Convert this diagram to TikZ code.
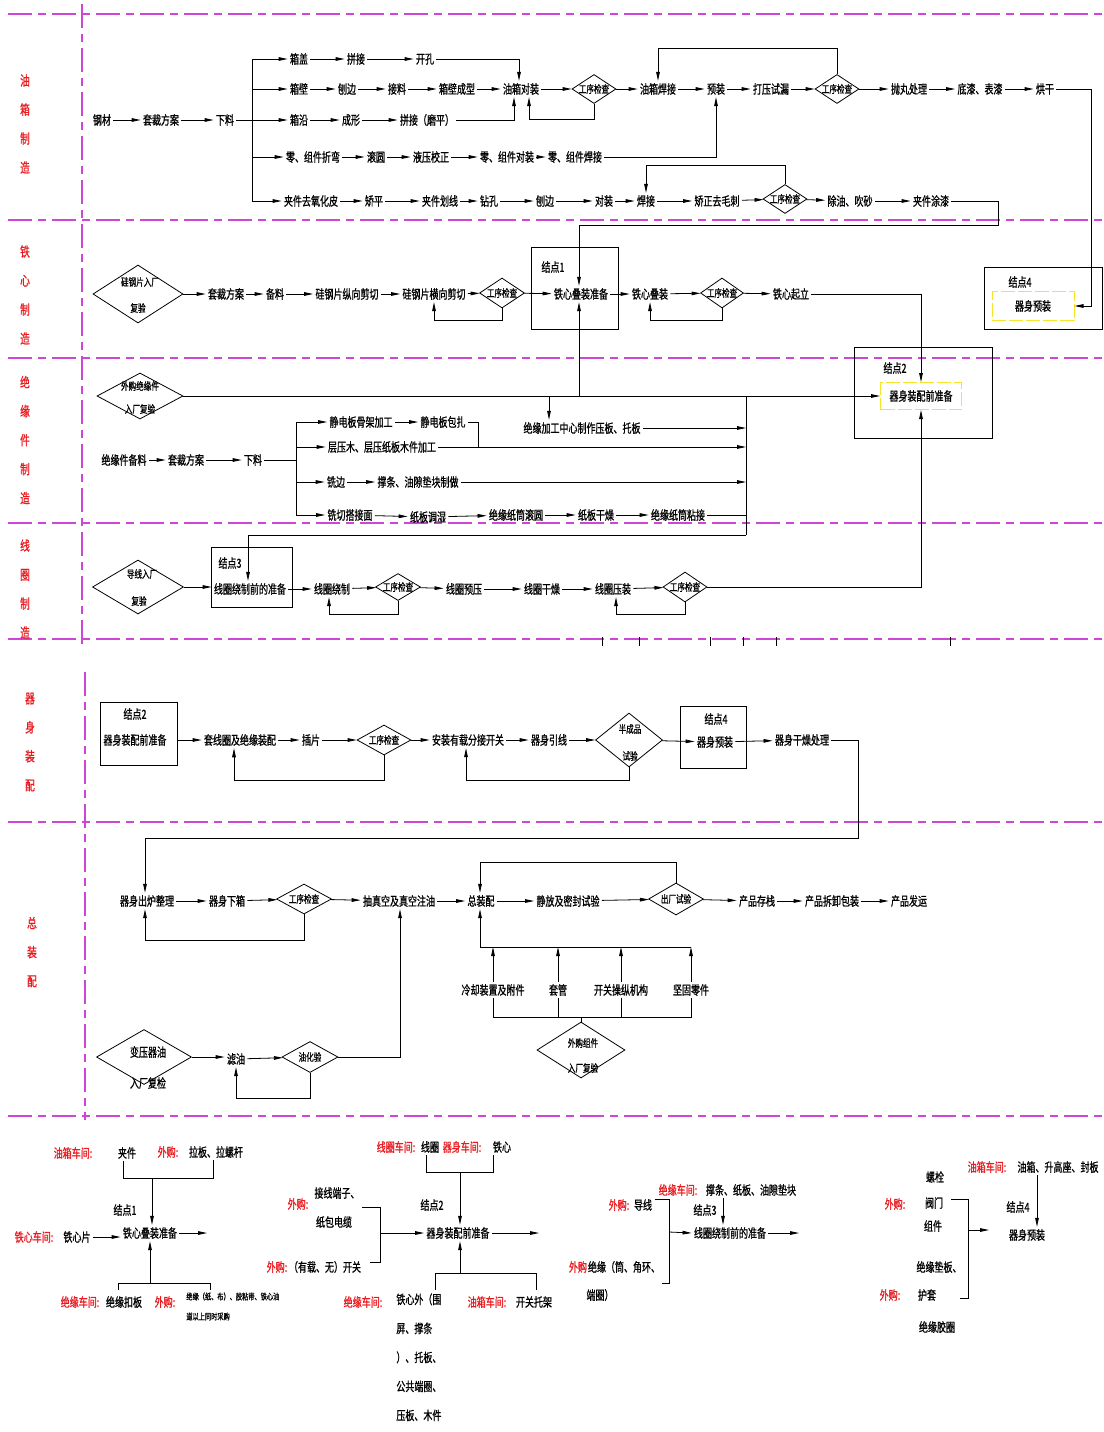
\documentclass[tikz,border=0pt]{standalone}
\usepackage{fontspec}
\newfontfamily\cjk[FakeStretch=0.72,FakeBold=0.9]{Noto Sans CJK SC}
\usetikzlibrary{shapes.geometric,arrows.meta,calc}
\definecolor{magl}{RGB}{205,70,215}
\definecolor{lblred}{RGB}{235,25,30}
\definecolor{ylw}{RGB}{245,228,40}
\newcommand\ztxt[1]{\smash{\makebox[0pt]{\raisebox{-0.38em}{#1}}}}
\tikzset{
 ctext/.style={font=\cjk\fontsize{12.5}{14}\selectfont, inner sep=2pt},
 csmall/.style={font=\cjk\fontsize{10.5}{12}\selectfont, inner sep=1pt},
 ctiny/.style={font=\cjk\fontsize{8.6}{20}\selectfont, inner sep=0pt},
 cred/.style={font=\cjk\fontsize{12.5}{14}\selectfont, text=lblred, inner sep=1pt},
 clane/.style={font=\cjk\fontsize{13.5}{29}\selectfont, text=lblred, align=center, inner sep=0pt},
 cdia/.style={diamond, draw, inner sep=0pt, minimum width=44, minimum height=29, font=\cjk\fontsize{10.5}{12}\selectfont},
 cbox/.style={draw, rectangle, inner sep=0pt},
 cybox/.style={draw=ylw, dash pattern=on 14pt off 3pt, line width=1pt, inner sep=0pt, font=\cjk\fontsize{12.5}{14}\selectfont},
 carr/.style={-{Triangle[length=9pt,width=3.6pt]}},
 cmag/.style={draw=magl, line width=1.1pt, dash pattern=on 24pt off 6pt on 8pt off 6pt},
}
\begin{document}
\begin{tikzpicture}[x=1pt,y=-1pt,line width=0.8pt]
\fill[white] (0,0) rectangle (1103,1432);
\useasboundingbox (0,0) rectangle (1103,1432);

% ---------- lane separators ----------
\foreach \yy in {14,220,358,523,639,822,1116} \draw[cmag] (8,\yy) -- (1103,\yy);
\draw[cmag] (82,4) -- (82,646);
\draw[cmag] (85,672) -- (85,1120);
\foreach \xx in {602,639,710,743,776,950} \draw[line width=0.6pt] (\xx,637) -- (\xx,646);

% ---------- lane labels ----------
\node[clane] (L1) at (25,124) {油\\箱\\制\\造};
\node[clane] (L2) at (25,295) {铁\\心\\制\\造};
\node[clane] (L3) at (25,440) {绝\\缘\\件\\制\\造};
\node[clane] (L4) at (25,589) {线\\圈\\制\\造};
\node[clane] (L5) at (30,742) {器\\身\\装\\配};
\node[clane] (L6) at (32,952) {总\\装\\配};

% ================= Lane 1 =================
\node[ctext] (gc) at (102,120) {钢材};
\node[ctext] (tcfa) at (161,120) {套裁方案};
\node[ctext] (xl) at (225,120) {下料};
\coordinate (s1) at (252,120);
\coordinate (s1t) at (252,59);
\coordinate (s1b) at (252,201);
\node[ctext] (xg) at (299,59) {箱盖};
\node[ctext] (pj1) at (356,59) {拼接};
\node[ctext] (kk) at (425,59) {开孔};
\node[ctext] (xbi) at (299,89) {箱壁};
\node[ctext] (bb1) at (347,89) {刨边};
\node[ctext] (jl) at (397,89) {接料};
\node[ctext] (xbcx) at (457,89) {箱壁成型};
\node[ctext] (yxdz) at (521,89) {油箱对装};
\node[cdia] (ck1) at (594,89) {\ztxt{工序检查}};
\node[ctext] (yxhj) at (658,89) {油箱焊接};
\node[ctext] (yz) at (716,89) {预装};
\node[ctext] (dysl) at (771,89) {打压试漏};
\node[cdia] (ck2) at (837,89) {\ztxt{工序检查}};
\node[ctext] (pwcl) at (909,89) {抛丸处理};
\node[ctext] (dqbq) at (980,89) {底漆、表漆};
\node[ctext] (hg) at (1045,89) {烘干};
\node[ctext] (xy) at (299,120) {箱沿};
\node[ctext] (cx) at (351,120) {成形};
\node[ctext] (pjmp) at (427,120) {拼接（磨平）};
\node[ctext] (lzw) at (313,157) {零、组件折弯};
\node[ctext] (gy) at (376,157) {滚圆};
\node[ctext] (yyjz) at (431,157) {液压校正};
\node[ctext] (lzd) at (507,157) {零、组件对装};
\node[ctext] (lzh) at (575,157) {零、组件焊接};
\node[ctext] (jjq) at (311,201) {夹件去氧化皮};
\node[ctext] (jp) at (374,201) {矫平};
\node[ctext] (jjhx) at (440,201) {夹件划线};
\node[ctext] (zk) at (489,201) {钻孔};
\node[ctext] (bb2) at (545,201) {刨边};
\node[ctext] (dz) at (604,201) {对装};
\node[ctext] (hj) at (646,201) {焊接};
\node[ctext] (jzq) at (717,201) {矫正去毛刺};
\node[cdia] (ck3) at (785,199) {\ztxt{工序检查}};
\node[ctext] (cycs) at (850,201) {除油、吹砂};
\node[ctext] (jjtq) at (931,201) {夹件涂漆};

\draw[carr] (gc) -- (tcfa);
\draw[carr] (tcfa) -- (xl);
\draw (xl) -- (s1);
\draw (s1t) -- (s1b);
\foreach \n in {xg,xbi,xy,lzw,jjq} \draw[carr] (s1 |- \n) -- (\n);
\draw[carr] (xg) -- (pj1);
\draw[carr] (pj1) -- (kk);
\draw[carr] (kk) -| ([xshift=-2]yxdz.north);
\foreach \a/\b in {xbi/bb1,bb1/jl,jl/xbcx,xbcx/yxdz,yxdz/ck1,ck1/yxhj,yxhj/yz,yz/dysl,dysl/ck2,ck2/pwcl,pwcl/dqbq,dqbq/hg} \draw[carr] (\a) -- (\b);
\draw[carr] (xy) -- (cx);
\draw[carr] (cx) -- (pjmp);
\draw[carr] (pjmp) -| ([xshift=-7]yxdz.south);
\draw[carr] (ck1.south) -- ++(0,15) -| ([xshift=8]yxdz.south);
\draw[carr] (ck2.north) -- ++(0,-26) -| (yxhj.north);
\foreach \a/\b in {lzw/gy,gy/yyjz,yyjz/lzd,lzd/lzh} \draw[carr] (\a) -- (\b);
\draw[carr] (lzh) -| (yz.south);
\foreach \a/\b in {jjq/jp,jp/jjhx,jjhx/zk,zk/bb2,bb2/dz,dz/hj,hj/jzq,jzq/ck3,ck3/cycs,cycs/jjtq} \draw[carr] (\a) -- (\b);
\draw[carr] (ck3.north) -- ++(0,-19) -| (hj.north);

% ================= Lane 2 =================
\node[cdia, minimum width=90, minimum height=58] (gpd) at (138,294) {};
\node[csmall] (gpdt) at (140,282) {硅钢片入厂};
\node[csmall] (gpdb) at (138,308) {复验};
\node[ctext] (tcfa2) at (226,294) {套裁方案};
\node[ctext] (bl) at (275,294) {备料};
\node[ctext] (gzx) at (347,294) {硅钢片纵向剪切};
\node[ctext] (ghx) at (434,294) {硅钢片横向剪切};
\node[cdia, minimum width=45, minimum height=30] (ck4) at (502,293) {\ztxt{工序检查}};
\node[cbox, minimum width=87, minimum height=82] (j1box) at (574.5,288) {};
\node[ctext] (j1l) at (553,267) {结点1};
\node[ctext] (txdz) at (581,294) {铁心叠装准备};
\node[ctext] (txd) at (650,294) {铁心叠装};
\node[cdia, minimum width=43, minimum height=30] (ck5) at (722,293) {\ztxt{工序检查}};
\node[ctext] (txql) at (791,294) {铁心起立};

\node[cbox, minimum width=118, minimum height=62] (j4box) at (1043,298) {};
\node[ctext] (j4l) at (1020,282) {结点4};
\node[cybox, minimum width=82, minimum height=29] (yel4) at (1033,306) {器身预装};

\node[cbox, minimum width=138, minimum height=91] (j2box) at (923,392.5) {};
\node[ctext] (j2l) at (895,368) {结点2};
\node[cybox, minimum width=81, minimum height=27] (yel2) at (921,396) {器身装配前准备};

\foreach \a/\b in {gpd/tcfa2,tcfa2/bl,bl/gzx,gzx/ghx,ghx/ck4,ck4/txdz,txdz/txd,txd/ck5,ck5/txql} \draw[carr] (\a) -- (\b);
\draw[carr] (ck4.south) -- ++(0,12) -| (ghx.south);
\draw[carr] (ck5.south) -- ++(0,12) -| (txd.south);
\draw[carr] (txql) -| (yel2.north);
\coordinate (c1) at (998,225);
\draw[carr] (jjtq) -| (c1) -| ([xshift=-2]txdz.north);
\coordinate (c2) at (1091,306);
\draw[carr] (hg) -| (c2) -- (yel4.east);

% ================= Lane 3 =================
\node[cdia, minimum width=86, minimum height=46] (wgj) at (140,396) {};
\node[csmall] (wgjt) at (140,386) {外购绝缘件};
\node[csmall] (wgjb) at (140,409) {入厂复验};
\draw[carr] (wgj.east) -- (yel2.west);
\node[ctext] (jgzx) at (582,428) {绝缘加工中心制作压板、托板};
\draw[carr] ([xshift=-2]txdz.south |- wgj.east) -- ([xshift=-2]txdz.south);
\draw[carr] ([xshift=-33]jgzx.north |- wgj.east) -- ([xshift=-33]jgzx.north);

\node[ctext] (jyjbl) at (124,460) {绝缘件备料};
\node[ctext] (tcfa3) at (186,460) {套裁方案};
\node[ctext] (xl3) at (253,460) {下料};
\coordinate (s3) at (296,460);
\coordinate (s3t) at (296,422);
\coordinate (s3b) at (296,515);
\node[ctext] (jdbgj) at (361,422) {静电板骨架加工};
\node[ctext] (jdbbz) at (443,422) {静电板包扎};
\node[ctext] (cym) at (382,447) {层压木、层压纸板木件加工};
\node[ctext] (xb3) at (336,482) {铣边};
\node[ctext] (ctyx) at (418,482) {撑条、油隙垫块制做};
\node[ctext] (xqdj) at (350,515) {铣切搭接面};
\node[ctext] (zbts) at (428,517) {纸板调湿};
\node[ctext] (jyztgy) at (516,515) {绝缘纸筒滚圆};
\node[ctext] (zbgz) at (596,515) {纸板干燥};
\node[ctext] (jyztnj) at (678,515) {绝缘纸筒粘接};
\coordinate (busT) at (746,396);
\coordinate (busB) at (746,535);

\draw[carr] (jyjbl) -- (tcfa3);
\draw[carr] (tcfa3) -- (xl3);
\draw (xl3) -- (s3);
\draw (s3t) -- (s3b);
\foreach \n in {jdbgj,cym,xb3,xqdj} \draw[carr] (s3 |- \n) -- (\n);
\draw[carr] (jdbgj) -- (jdbbz);
\draw[carr] (xb3) -- (ctyx);
\foreach \a/\b in {xqdj/zbts,zbts/jyztgy,jyztgy/zbgz,zbgz/jyztnj} \draw[carr] (\a) -- (\b);
\coordinate (kB) at ([xshift=10]jdbbz.east |- cym.east);
\draw (jdbbz.east) -| (kB);
\draw[carr] (cym.east) -- (cym.east -| busT);
\draw[carr] (jgzx.east) -- (jgzx.east -| busT);
\draw[carr] (ctyx.east) -- (ctyx.east -| busT);
\draw (jyztnj.east) -- (jyztnj.east -| busT);
\draw (busT) -- (busB);

% ================= Lane 4 =================
\node[cdia, minimum width=91, minimum height=54] (dxd) at (138,587) {};
\node[csmall] (dxdt) at (142,574) {导线入厂};
\node[csmall] (dxdb) at (139,601) {复验};
\node[cbox, minimum width=81, minimum height=60] (j3box) at (251.5,577) {};
\node[ctext] (j3l) at (230,563) {结点3};
\node[ctext] (xqrz) at (250,589) {线圈绕制前的准备};
\node[ctext] (xqrzhi) at (332,589) {线圈绕制};
\node[cdia, minimum width=45, minimum height=27] (ck6) at (398,587) {\ztxt{工序检查}};
\node[ctext] (xqyy) at (464,589) {线圈预压};
\node[ctext] (xqgz) at (542,589) {线圈干燥};
\node[ctext] (xqyz) at (613,589) {线圈压装};
\node[cdia, minimum width=44, minimum height=30] (ck7) at (685,587) {\ztxt{工序检查}};
\draw[carr] (busB) -| ([xshift=-2]xqrz.north);
\draw[carr] (dxd.east) -- (dxd.east -| xqrz.west);
\foreach \a/\b in {xqrz/xqrzhi,xqrzhi/ck6,ck6/xqyy,xqyy/xqgz,xqgz/xqyz,xqyz/ck7} \draw[carr] (\a) -- (\b);
\draw[carr] (ck6.south) -- ++(0,13) -| ([xshift=-3]xqrzhi.south);
\draw[carr] (ck7.south) -- ++(0,12) -| ([xshift=3]xqyz.south);
\draw[carr] (ck7) -| (yel2.south);

% ================= Lane 5 =================
\node[cbox, minimum width=77, minimum height=63] (j2b) at (138.5,733.5) {};
\node[ctext] (j2bl) at (135,714) {结点2};
\node[ctext] (qszp) at (135,740) {器身装配前准备};
\node[ctext] (txq) at (240,740) {套线圈及绝缘装配};
\node[ctext] (cp) at (311,740) {插片};
\node[cdia, minimum width=54, minimum height=30] (ck8) at (384,740) {\ztxt{工序检查}};
\node[ctext] (azyz) at (468,740) {安装有载分接开关};
\node[ctext] (qsyx) at (549,740) {器身引线};
\node[cdia, minimum width=67, minimum height=54] (bcp) at (629,740) {};
\node[csmall] (bcpt) at (630,729) {半成品};
\node[csmall] (bcpb) at (630,756) {试验};
\node[cbox, minimum width=66, minimum height=62] (j4b) at (713.5,737.5) {};
\node[ctext] (j4bl) at (716,719) {结点4};
\node[ctext] (qsyz) at (715,742) {器身预装};
\node[ctext] (qsgz) at (802,740) {器身干燥处理};
\draw[carr] (j2b.east |- qszp) -- (txq);
\foreach \a/\b in {txq/cp,cp/ck8,ck8/azyz,azyz/qsyx,qsyx/bcp,bcp/qsyz,qsyz/qsgz} \draw[carr] (\a) -- (\b);
\draw[carr] (ck8.south) -- ++(0,25) -| ([xshift=-6]txq.south);
\draw[carr] (bcp.south) -- ++(0,13) -| ([xshift=-2]azyz.south);

% ================= Lane 6 =================
\node[ctext] (cczl) at (147,901) {器身出炉整理};
\node[ctext] (sxx) at (227,901) {器身下箱};
\node[cdia, minimum width=55, minimum height=30] (ck9) at (304,899) {\ztxt{工序检查}};
\node[ctext] (czk) at (399,901) {抽真空及真空注油};
\node[ctext] (zzp) at (481,901) {总装配};
\node[ctext] (jfmf) at (568,901) {静放及密封试验};
\node[cdia, minimum width=55, minimum height=32] (ccsy) at (676,899) {\ztxt{出厂试验}};
\node[ctext] (cpcz) at (757,901) {产品存栈};
\node[ctext] (cpcx) at (832,901) {产品拆卸包装};
\node[ctext] (cpfy) at (909,901) {产品发运};
\coordinate (tr5) at (858,838);
\draw[carr] (qsgz) -| (tr5) -| ([xshift=-2]cczl.north);
\foreach \a/\b in {cczl/sxx,sxx/ck9,ck9/czk,czk/zzp,zzp/jfmf,jfmf/ccsy,ccsy/cpcz,cpcz/cpcx,cpcx/cpfy} \draw[carr] (\a) -- (\b);
\draw[carr] (ck9.south) -- ++(0,26) -| ([xshift=-2]cczl.south);
\draw[carr] (ccsy.north) -- ++(0,-20) -| ([xshift=-1]zzp.north);

\node[ctext] (lqzz) at (493,990) {冷却装置及附件};
\node[ctext] (tg) at (558,990) {套管};
\node[ctext] (kgcz) at (621,990) {开关操纵机构};
\node[ctext] (jglj) at (691,990) {坚固零件};
\coordinate (at1) at (480,947);
\coordinate (at2) at (691,947);
\draw (at1) -- (at2);
\draw[carr] (at1) -- (at1 |- zzp.south);
\foreach \n in {lqzz,tg,kgcz,jglj} \draw[carr] (\n.north) -- (\n.north |- at1);
\node[cdia, minimum width=88, minimum height=56] (wgzj) at (581,1050) {};
\node[csmall] (wgzjt) at (583,1043) {外购组件};
\node[csmall] (wgzjb) at (583,1068) {入厂复验};
\coordinate (ab1) at (493,1017);
\draw (lqzz.south) -- (lqzz.south |- ab1) -- (jglj.south |- ab1) -- (jglj.south);
\draw (tg.south) -- (tg.south |- ab1);
\draw (kgcz.south) -- (kgcz.south |- ab1);
\draw (wgzj.north) -- (wgzj.north |- ab1);

\node[cdia, minimum width=95, minimum height=55] (byq) at (144,1057) {};
\node[ctext] (byqt) at (148,1052) {变压器油};
\node[ctext] (byqb) at (148,1083) {入厂复检};
\node[ctext] (ly) at (236,1059) {滤油};
\node[cdia, minimum width=56, minimum height=31] (yhy) at (310,1057) {\ztxt{油化验}};
\draw[carr] (byq.east) -- (byq.east -| ly.west);
\draw[carr] (ly) -- (yhy);
\draw[carr] (yhy.south) -- ++(0,25) -| (ly.south);
\draw[carr] (yhy) -| ([xshift=1]czk.south);

% ================= Bottom section =================
% group 1
\node[cred] (r1) at (73,1153) {油箱车间:};
\node[ctext] (b1) at (127,1153) {夹件};
\node[cred] (r2) at (168,1152) {外购:};
\node[ctext] (b2) at (216,1152) {拉板、拉螺杆};
\coordinate (g1r) at (213,1178);
\coordinate (g1c) at (152,1178);
\draw ([xshift=-4]b1.south) |- (g1r) -- (g1r |- b2.south);
\node[ctext] (j1l2) at (125,1210) {结点1};
\node[ctext] (tx1) at (150,1233) {铁心叠装准备};
\draw[carr] (g1c) -- (g1c |- tx1.north);
\node[cred] (r3) at (34,1237) {铁心车间:};
\node[ctext] (b3) at (77,1237) {铁心片};
\draw[carr] (b3) -- (b3 -| tx1.west);
\coordinate (o1) at (207,1233);
\draw[carr] (tx1) -- (o1);
\coordinate (g1d) at (118,1283);
\coordinate (g1e) at (210,1283);
\coordinate (g1f) at (150,1283);
\draw (g1d) ++(0,7) -- (g1d) -- (g1e) -- ++(0,7);
\draw[carr] (g1f) -- (tx1.south);
\node[cred] (r4) at (80,1302) {绝缘车间:};
\node[ctext] (b4) at (124,1302) {绝缘扣板};
\node[cred] (r5) at (165,1302) {外购:};
\node[ctiny, anchor=north west, align=left] (b5) at (186,1292) {绝缘（纸、布）、胶粘带、铁心油\\道以上同时采购};

% group 2
\node[cred] (r6) at (396,1147) {线圈车间:};
\node[ctext] (b6) at (430,1147) {线圈};
\node[cred] (r7) at (462,1147) {器身车间:};
\node[ctext] (b7) at (502,1147) {铁心};
\coordinate (g2r) at (493,1172);
\coordinate (g2c) at (460,1172);
\draw ([xshift=-4]b6.south) |- (g2r) -- (g2r |- b7.south);
\node[ctext] (j2l2) at (432,1205) {结点2};
\node[ctext] (qszp2) at (458,1233) {器身装配前准备};
\draw[carr] (g2c) -- (g2c |- qszp2.north);
\coordinate (o2) at (539,1233);
\draw[carr] (qszp2) -- (o2);
\node[cred] (r8) at (298,1204) {外购:};
\node[ctext] (b8) at (337,1193) {接线端子、};
\node[ctext] (b9) at (334,1222) {纸包电缆};
\coordinate (g2a) at (380,1207);
\coordinate (g2b) at (380,1262);
\coordinate (g2m) at (380,1233);
\draw ($(g2a)+(-18,0)$) -- (g2a) -- (g2b) -- ++(-10,0);
\draw[carr] (g2m) -- (qszp2.west);
\node[cred] (r9) at (277,1267) {外购:};
\node[ctext] (b10) at (325,1267) {（有载、无）开关};
\coordinate (g2d) at (435,1273);
\coordinate (g2e) at (536,1273);
\coordinate (g2f) at (460,1273);
\draw (g2d) ++(0,17) -- (g2d) -- (g2e) -- ++(0,17);
\draw[carr] (g2f) -- (g2f |- qszp2.south);
\node[cred] (r10) at (363,1302) {绝缘车间:};
\node[ctext, anchor=north west, align=left, font=\cjk\fontsize{12.5}{29}\selectfont, inner sep=0pt] (b11) at (396,1293) {铁心外（围\\屏、撑条\\）、托板、\\公共端圈、\\压板、木件};
\node[cred] (r11) at (487,1302) {油箱车间:};
\node[ctext] (b12) at (534,1302) {开关托架};

% group 3
\node[cred] (r12) at (678,1190) {绝缘车间:};
\node[ctext] (b13) at (751,1190) {撑条、纸板、油隙垫块};
\node[cred] (r13) at (619,1205) {外购:};
\node[ctext] (b14) at (643,1205) {导线};
\coordinate (g3a) at (669,1199);
\coordinate (g3b) at (669,1283);
\coordinate (g3m) at (669,1232);
\draw ($(g3a)+(-14,0)$) -- (g3a) -- (g3b) -- ++(-7,0);
\node[ctext] (j3l2) at (705,1210) {结点3};
\node[ctext] (xqrz2) at (730,1233) {线圈绕制前的准备};
\draw[carr] (g3m) -- (xqrz2.west);
\draw[carr] ([xshift=-28]b13.south) -- ([xshift=-7]xqrz2.north);
\coordinate (o3) at (799,1233);
\draw[carr] (xqrz2) -- (o3);
\node[cred] (r14) at (578,1267) {外购};
\node[ctext] (b15) at (624,1267) {绝缘（筒、角环、};
\node[ctext] (b16) at (600,1295) {端圈）};

% group 4
\node[ctext] (b17) at (935,1177) {螺栓};
\node[cred] (r15) at (895,1204) {外购:};
\node[ctext] (b18) at (934,1203) {阀门};
\node[ctext] (b19) at (933,1226) {组件};
\coordinate (g4a) at (968,1199);
\coordinate (g4b) at (968,1298);
\coordinate (g4m) at (968,1230);
\draw ($(g4a)+(-17,0)$) -- (g4a) -- (g4b) -- ++(-8,0);
\coordinate (o4) at (989,1230);
\draw[carr] (g4m) -- (o4);
\node[cred] (r16) at (987,1167) {油箱车间:};
\node[ctext] (b20) at (1058,1167) {油箱、升高座、封板};
\node[ctext] (j4l2) at (1018,1207) {结点4};
\node[ctext] (b21) at (1027,1235) {器身预装};
\draw[carr] ([xshift=-21]b20.south) -- ([xshift=10]b21.north);
\node[ctext] (b22) at (939,1267) {绝缘垫板、};
\node[cred] (r17) at (890,1295) {外购:};
\node[ctext] (b23) at (927,1295) {护套};
\node[ctext] (b24) at (937,1327) {绝缘胶圈};
\end{tikzpicture}
\end{document}
